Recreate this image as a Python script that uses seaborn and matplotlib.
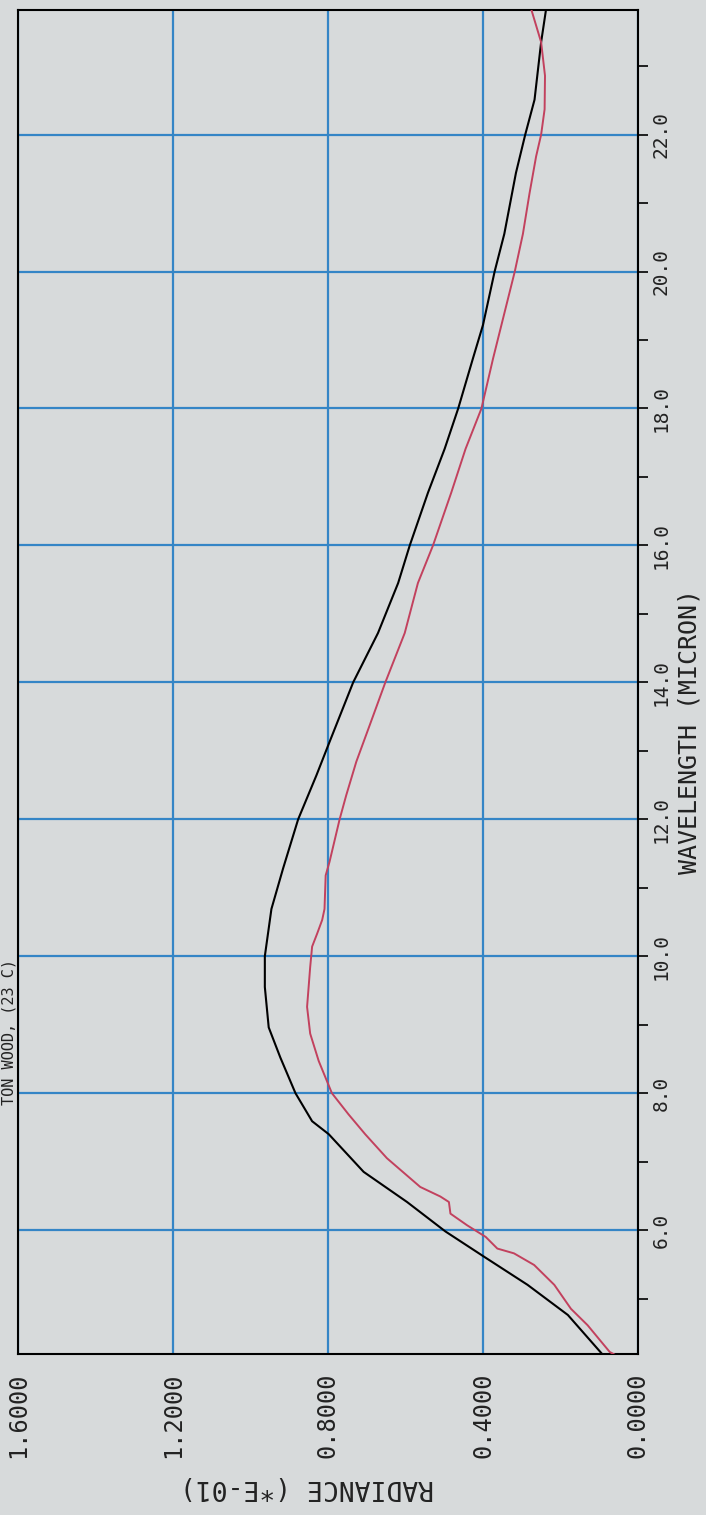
import numpy as np
import pandas as pd
import matplotlib
matplotlib.use("Agg")
import matplotlib.pyplot as plt
import seaborn as sns
from matplotlib.ticker import MultipleLocator, FormatStrFormatter

# ---- data (wavelength in micron, radiance in E-01 units)
black_wl = [4.18, 4.76, 5.20, 5.61, 5.98, 6.41, 6.85, 7.40, 7.59, 8.00, 8.52, 8.96,
            9.55, 10.00, 10.69, 11.28, 12.00, 12.64, 13.13, 14.00, 14.72, 15.45,
            16.00, 16.77, 17.41, 18.00, 18.73, 19.22, 20.00, 20.55, 21.44, 22.00,
            22.51, 23.35, 23.84]
black_rad = [0.091, 0.181, 0.285, 0.397, 0.497, 0.596, 0.708, 0.798, 0.841, 0.884,
             0.923, 0.953, 0.963, 0.963, 0.946, 0.916, 0.877, 0.830, 0.796, 0.735,
             0.671, 0.619, 0.589, 0.542, 0.499, 0.464, 0.426, 0.400, 0.370, 0.345,
             0.315, 0.291, 0.267, 0.250, 0.237]

red_wl = [4.18, 4.22, 4.37, 4.61, 4.85, 5.20, 5.49, 5.66, 5.73, 5.90, 6.07, 6.24,
          6.41, 6.49, 6.63, 7.05, 7.40, 7.69, 8.00, 8.47, 8.87, 9.26, 9.84, 10.14,
          10.33, 10.53, 10.69, 11.18, 11.38, 12.00, 12.35, 12.84, 13.38, 14.00,
          14.72, 15.45, 16.00, 16.77, 17.41, 18.00, 18.73, 19.32, 20.00, 20.55,
          21.14, 21.68, 22.00, 22.37, 22.86, 23.35, 23.84]
red_rad = [0.060, 0.073, 0.095, 0.130, 0.173, 0.216, 0.268, 0.320, 0.363, 0.393,
           0.441, 0.484, 0.488, 0.510, 0.562, 0.648, 0.704, 0.747, 0.790, 0.824,
           0.846, 0.854, 0.846, 0.841, 0.828, 0.815, 0.809, 0.806, 0.796, 0.770,
           0.753, 0.727, 0.692, 0.652, 0.602, 0.568, 0.529, 0.482, 0.445, 0.404,
           0.374, 0.348, 0.318, 0.297, 0.280, 0.263, 0.250, 0.241, 0.240, 0.250,
           0.276]

title_text = "TON WOOD, (23 C)"
xlabel_text = "WAVELENGTH (MICRON)"
ylabel_text = "RADIANCE (*E-01)"

# ---- styling
sns.set_style("white")
plt.rcParams['font.family'] = ['DejaVu Sans Mono', 'DejaVu Sans']
PAGE = "#d7dadb"
GRID = "#3485c6"
RED = "#c2415e"
INK = "#222222"

W, H = 706, 1515
fig = plt.figure(figsize=(W / 100, H / 100), dpi=100, facecolor=PAGE)
ax = fig.add_axes([18 / W, (H - 1354) / H, (638 - 18) / W, (1354 - 10) / H])
ax.set_facecolor(PAGE)

black_df = pd.DataFrame({"wl": black_wl, "rad": black_rad})
red_df = pd.DataFrame({"wl": red_wl, "rad": red_rad})

sns.lineplot(data=black_df, x="rad", y="wl", orient="y", sort=False, estimator=None,
             color="black", linewidth=1.5, ax=ax, zorder=4)
sns.lineplot(data=red_df, x="rad", y="wl", orient="y", sort=False, estimator=None,
             color=RED, linewidth=1.4, ax=ax, zorder=5)

ax.set_xlim(1.6, 0.0)
ax.set_ylim(4.19, 23.82)

ax.xaxis.set_major_locator(MultipleLocator(0.4))
ax.xaxis.set_minor_locator(MultipleLocator(0.2))
ax.yaxis.set_major_locator(MultipleLocator(2.0))
ax.yaxis.set_minor_locator(MultipleLocator(1.0))
ax.xaxis.set_major_formatter(FormatStrFormatter("%.4f"))
ax.yaxis.set_major_formatter(FormatStrFormatter("%.1f"))

ax.yaxis.tick_right()
ax.tick_params(axis="both", which="both", direction="out", length=7, width=1.2,
               color="black", labelcolor=INK)
ax.tick_params(axis="x", which="major", labelsize=17, pad=6, labelrotation=90)
ax.tick_params(axis="y", which="major", labelsize=14, pad=3, labelrotation=90)
for lab in ax.get_yticklabels():
    lab.set_verticalalignment("center")

ax.grid(True, which="major", color=GRID, linewidth=1.6)
ax.set_axisbelow(True)
for sp in ax.spines.values():
    sp.set_visible(True)
    sp.set_color("black")
    sp.set_linewidth(1.5)

ax.set_xlabel("")
ax.set_ylabel("")

fig.text(1 / W, (H - 1032) / H, title_text, rotation=90, fontsize=11,
         ha="left", va="center", color=INK)
fig.text(677 / W, (H - 731) / H, xlabel_text, rotation=90, fontsize=18,
         ha="left", va="center", color=INK)
fig.text(307 / W, (H - 1487) / H, ylabel_text, rotation=180, fontsize=19,
         ha="center", va="center", color=INK)

fig.savefig("out.png", dpi=100, facecolor=PAGE)
